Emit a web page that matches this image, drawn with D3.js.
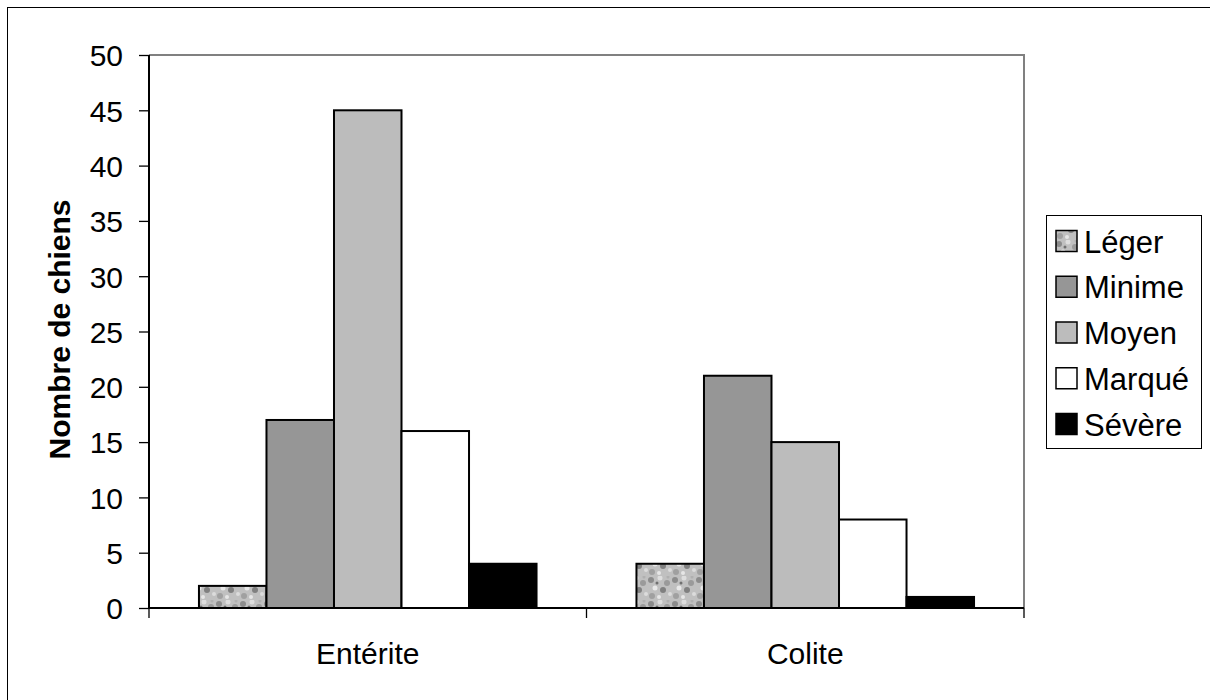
<!DOCTYPE html>
<html><head><meta charset="utf-8">
<script src="https://cdn.jsdelivr.net/npm/d3@7/dist/d3.min.js"></script>
<style>body{margin:0;background:#fff}svg{display:block}text{font-family:"Liberation Sans",Arial,sans-serif}</style>
</head><body>
<svg id="c" width="1210" height="700"></svg>
<script>
const categories = ["Entérite", "Colite"];
const seriesNames = ["Léger", "Minime", "Moyen", "Marqué", "Sévère"];
const leger  = [2, 4];
const minime = [17, 21];
const moyen  = [45, 15];
const marque = [16, 8];
const severe = [4, 1];
const yTicks = [0, 5, 10, 15, 20, 25, 30, 35, 40, 45, 50];
const seriesValues = [leger, minime, moyen, marque, severe];
const fills = ["url(#granite)", "#969696", "#bcbcbc", "#ffffff", "#000000"];

const svg = d3.select("#c");
svg.append("rect").attr("x", 7.5).attr("y", 7.5).attr("width", 1210).attr("height", 700)
  .attr("fill", "#fff").attr("stroke", "#000");

// granite pattern
const defs = svg.append("defs");
const pat = defs.append("pattern").attr("id", "granite").attr("patternUnits", "userSpaceOnUse")
  .attr("width", 24).attr("height", 24);
pat.append("rect").attr("width", 24).attr("height", 24).attr("fill", "#c0c0c0");
const blobs = [[3,4,3,"#8c8c8c"],[12,2,2.5,"#dedede"],[19,7,3,"#9a9a9a"],[7,12,2.5,"#e8e8e8"],
  [15,14,3,"#808080"],[22,18,2,"#dcdcdc"],[4,20,3,"#a0a0a0"],[11,21,2,"#e6e6e6"],[20,1,1.5,"#b0b0b0"],[9,7,1.5,"#707070"]];
blobs.forEach(b => pat.append("circle").attr("cx", b[0]).attr("cy", b[1]).attr("r", b[2]).attr("fill", b[3]));

const L = 149, R = 1024, T = 55, B = 608;
const y = d3.scaleLinear().domain([0, 50]).range([B, T]);
const x0 = d3.scaleBand().domain(categories).range([L, R]).padding(0);
const x1 = d3.scaleBand().domain(seriesNames).range([0, x0.bandwidth()]).paddingInner(0).paddingOuter(0.74);

// plot border (top & right gray)
svg.append("path").attr("d", `M${L},${T}H${R}V${B}`).attr("fill", "none")
  .attr("stroke", "#808080").attr("stroke-width", 2);

// bars
categories.forEach((c, ci) => {
  seriesNames.forEach((s, si) => {
    const v = seriesValues[si][ci];
    svg.append("rect")
      .attr("x", x0(c) + x1(s)).attr("y", y(v))
      .attr("width", x1.bandwidth()).attr("height", y(0) - y(v))
      .attr("fill", fills[si]).attr("stroke", "#000").attr("stroke-width", 2);
  });
});

// y axis
const yAxis = d3.axisLeft(y).tickValues(yTicks).tickSize(10).tickPadding(16);
const gy = svg.append("g").attr("transform", `translate(${L},0)`).call(yAxis);
gy.select(".domain").attr("stroke", "#000").attr("stroke-width", 2).attr("d", `M0,${T}V${B}`);
gy.selectAll(".tick line").attr("stroke", "#000").attr("stroke-width", 1.3);
gy.selectAll("text").attr("font-size", 30).attr("fill", "#000").attr("dy", "0.36em");

// x axis
const gx = svg.append("g").attr("transform", `translate(0,${B})`);
gx.append("line").attr("x1", L).attr("x2", R).attr("stroke", "#000").attr("stroke-width", 2);
const xt = [L, ...categories.map(c => x0(c) + x0.bandwidth())];
xt.forEach(t => gx.append("line").attr("x1", t).attr("x2", t).attr("y1", 0).attr("y2", 10)
  .attr("stroke", "#000").attr("stroke-width", 1.3));
categories.forEach(c => gx.append("text").attr("x", x0(c) + x0.bandwidth() / 2).attr("y", 56)
  .attr("text-anchor", "middle").attr("font-size", 30).text(c));

// y title
svg.append("text").attr("transform", `translate(70,${(T + B) / 2 - 2}) rotate(-90)`)
  .attr("text-anchor", "middle").attr("font-size", 30).attr("font-weight", "bold").text("Nombre de chiens");

// legend
const lg = svg.append("g");
lg.append("rect").attr("x", 1046.5).attr("y", 215.5).attr("width", 155).attr("height", 233)
  .attr("fill", "#fff").attr("stroke", "#000");
seriesNames.forEach((s, i) => {
  const cy = 241 + i * 45.75;
  lg.append("rect").attr("x", 1056).attr("y", cy - 10.5).attr("width", 21).attr("height", 21)
    .attr("fill", fills[i]).attr("stroke", "#000").attr("stroke-width", 1.5);
  lg.append("text").attr("x", 1084).attr("y", cy + 11.5).attr("font-size", 31).text(s);
});
</script>
</body></html>
